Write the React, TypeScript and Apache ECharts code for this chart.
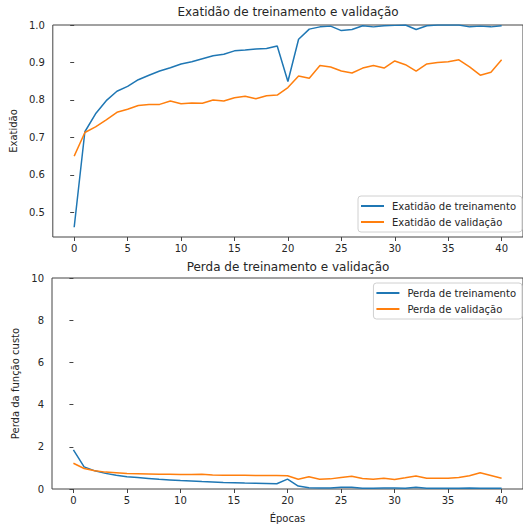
import React, { useEffect, useRef } from "react";
import * as echarts from "echarts";

const epochs: number[] = Array.from({ length: 41 }, (_, i) => i);

const trainAcc: number[] = [
  0.46, 0.715, 0.763, 0.798, 0.823, 0.836, 0.854, 0.866, 0.877, 0.886,
  0.896, 0.902, 0.91, 0.918, 0.922, 0.931, 0.933, 0.936, 0.937, 0.944,
  0.849, 0.962, 0.989, 0.995, 0.997, 0.985, 0.988, 0.998, 0.995, 0.998,
  0.999, 1.0, 0.988, 0.998, 1.0, 1.0, 1.0, 0.995, 0.997, 0.995, 0.998,
];
const valAcc: number[] = [
  0.65, 0.713, 0.728, 0.747, 0.767, 0.775, 0.785, 0.788, 0.788, 0.797,
  0.79, 0.792, 0.791, 0.8, 0.797, 0.806, 0.81, 0.803, 0.811, 0.813,
  0.833, 0.864, 0.858, 0.892, 0.888, 0.877, 0.872, 0.885, 0.892, 0.885,
  0.904, 0.894, 0.877, 0.896, 0.9, 0.902, 0.907, 0.888, 0.866, 0.874, 0.907,
];
const trainLoss: number[] = [
  1.85, 1.05, 0.86, 0.74, 0.65, 0.58, 0.54, 0.5, 0.46, 0.43,
  0.4, 0.38, 0.35, 0.33, 0.31, 0.3, 0.28, 0.27, 0.26, 0.25,
  0.47, 0.14, 0.06, 0.05, 0.05, 0.08, 0.08, 0.04, 0.04, 0.05,
  0.05, 0.04, 0.08, 0.04, 0.04, 0.03, 0.03, 0.05, 0.04, 0.04, 0.04,
];
const valLoss: number[] = [
  1.22, 0.97, 0.86, 0.8, 0.77, 0.73, 0.72, 0.71, 0.7, 0.7,
  0.69, 0.69, 0.7, 0.66, 0.65, 0.65, 0.65, 0.64, 0.64, 0.64,
  0.63, 0.46, 0.58, 0.46, 0.48, 0.55, 0.6, 0.5, 0.46, 0.51,
  0.45, 0.53, 0.62, 0.51, 0.51, 0.51, 0.55, 0.63, 0.77, 0.64, 0.51,
];

const xTicks: number[] = [0, 5, 10, 15, 20, 25, 30, 35, 40];
const accTicks: number[] = [0.5, 0.6, 0.7, 0.8, 0.9, 1.0];

const titles = ["Exatidão de treinamento e validação", "Perda de treinamento e validação"];
const seriesNames = [
  "Exatidão de treinamento",
  "Exatidão de validação",
  "Perda de treinamento",
  "Perda de validação",
];
const yNames = ["Exatidão", "Perda da função custo"];
const xName = "Épocas";

const BLUE = "#1f77b4";
const ORANGE = "#ff7f0e";
const AX = "#444";
const TXT = "#262626";
const FONT = "DejaVu Sans";

export default function App() {
  const ref = useRef<HTMLDivElement>(null);
  useEffect(() => {
    if (!ref.current) return;
    const chart = echarts.init(ref.current, null, { renderer: "svg" });
    const pair = (ys: number[]) => epochs.map((e, i) => [e, ys[i]]);
    const xAxisBase = (gridIndex: number) => ({
      type: "value",
      gridIndex,
      min: -2,
      max: 42,
      splitLine: { show: false },
      axisLine: { show: false },
      axisTick: { show: true, length: 4, lineStyle: { color: AX }, customValues: xTicks },
      axisLabel: {
        margin: 6,
        color: TXT,
        fontSize: 10,
        fontFamily: FONT,
        customValues: xTicks,
      },
    });
    const legendBase = {
      orient: "vertical",
      right: 1,
      icon: "rect",
      itemWidth: 23,
      itemHeight: 2,
      itemGap: 4,
      padding: [4, 6, 4, 3],
      borderColor: "#d0d0d0",
      borderWidth: 1,
      borderRadius: 3,
      backgroundColor: "rgba(255,255,255,0.8)",
      textStyle: { fontSize: 10, fontFamily: FONT, color: TXT, padding: [0, 0, 0, 3], lineHeight: 12 },
    };
    const titleStyle = { fontSize: 12, fontWeight: "normal", fontFamily: FONT, color: TXT };
    chart.setOption({
      animation: false,
      backgroundColor: "#fff",
      title: [
        { text: titles[0], left: 288, top: 6, padding: 0, textAlign: "center", textStyle: titleStyle },
        { text: titles[1], left: 288, top: 261, padding: 0, textAlign: "center", textStyle: titleStyle },
      ],
      legend: [
        { ...legendBase, top: 196, data: [seriesNames[0], seriesNames[1]] },
        { ...legendBase, top: 283, data: [seriesNames[2], seriesNames[3]] },
      ],
      grid: [
        { left: 52, top: 25, width: 472, height: 212, show: true, borderColor: AX, borderWidth: 1, backgroundColor: "transparent" },
        { left: 52, top: 278, width: 472, height: 211, show: true, borderColor: AX, borderWidth: 1, backgroundColor: "transparent" },
      ],
      xAxis: [
        xAxisBase(0),
        {
          ...xAxisBase(1),
          name: xName,
          nameLocation: "middle",
          nameGap: 24,
          nameTextStyle: { fontSize: 10, fontFamily: FONT, color: TXT },
        },
      ],
      yAxis: [
        {
          type: "value",
          gridIndex: 0,
          min: 0.434,
          max: 1.0,
          splitLine: { show: false },
          axisLine: { show: false },
          axisTick: { show: true, length: 4, lineStyle: { color: AX }, customValues: accTicks },
          axisLabel: {
            margin: 8,
            color: TXT,
            fontSize: 10,
            fontFamily: FONT,
            customValues: accTicks,
            formatter: (v: number) => v.toFixed(1),
          },
          name: yNames[0],
          nameLocation: "middle",
          nameGap: 32,
          nameTextStyle: { fontSize: 10, fontFamily: FONT, color: TXT },
        },
        {
          type: "value",
          gridIndex: 1,
          min: 0,
          max: 10,
          interval: 2,
          splitLine: { show: false },
          axisLine: { show: false },
          axisTick: { show: true, length: 4, lineStyle: { color: AX } },
          axisLabel: { margin: 8, color: TXT, fontSize: 10, fontFamily: FONT },
          name: yNames[1],
          nameLocation: "middle",
          nameGap: 28,
          nameTextStyle: { fontSize: 10, fontFamily: FONT, color: TXT },
        },
      ],
      series: [
        { name: seriesNames[0], type: "line", xAxisIndex: 0, yAxisIndex: 0, data: pair(trainAcc), symbol: "none", color: BLUE, lineStyle: { width: 1.5, color: BLUE } },
        { name: seriesNames[1], type: "line", xAxisIndex: 0, yAxisIndex: 0, data: pair(valAcc), symbol: "none", color: ORANGE, lineStyle: { width: 1.5, color: ORANGE } },
        { name: seriesNames[2], type: "line", xAxisIndex: 1, yAxisIndex: 1, data: pair(trainLoss), symbol: "none", color: BLUE, lineStyle: { width: 1.5, color: BLUE } },
        { name: seriesNames[3], type: "line", xAxisIndex: 1, yAxisIndex: 1, data: pair(valLoss), symbol: "none", color: ORANGE, lineStyle: { width: 1.5, color: ORANGE } },
      ],
    });
    return () => chart.dispose();
  }, []);
  return (
    <div
      ref={ref}
      style={{ position: "fixed", left: 0, top: 0, width: 523, height: 529, background: "#fff" }}
    />
  );
}
